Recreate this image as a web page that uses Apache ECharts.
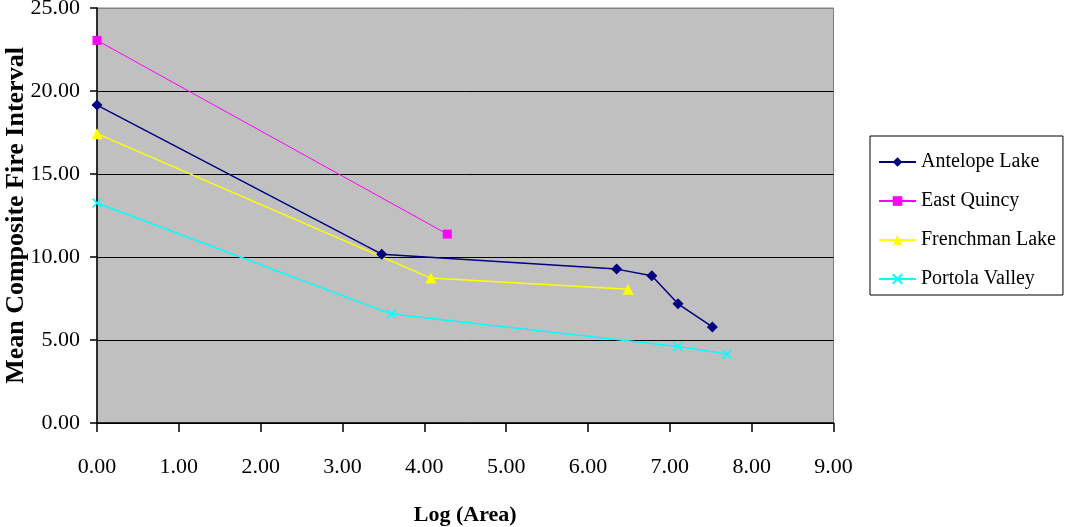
<!DOCTYPE html>
<html>
<head>
<meta charset="utf-8">
<script src="https://cdn.jsdelivr.net/npm/echarts@6/dist/echarts.min.js"></script>
<style>html,body{margin:0;padding:0;background:#fff}#c{width:1065px;height:527px}</style>
</head>
<body>
<div id="c"></div>
<script>
var seriesNames = ['Antelope Lake', 'East Quincy', 'Frenchman Lake', 'Portola Valley'];
var antelopeLake = [[0, 19.15], [3.48, 10.17], [6.35, 9.27], [6.78, 8.87], [7.10, 7.18], [7.52, 5.79]];
var eastQuincy = [[0, 23.05], [4.28, 11.38]];
var frenchmanLake = [[0, 17.43], [4.08, 8.73], [6.49, 8.06]];
var portolaValley = [[0, 13.25], [3.60, 6.56], [7.10, 4.61], [7.70, 4.15]];
var xTicks = {min: 0, max: 9, interval: 1};
var yTicks = {min: 0, max: 25, interval: 5};

var FONT = "'Liberation Serif', 'Times New Roman', serif";
var chart = echarts.init(document.getElementById('c'), null, {renderer: 'canvas'});
function fmt(v) { return Number(v).toFixed(2); }
chart.setOption({
  animation: false,
  backgroundColor: '#ffffff',
  textStyle: {fontFamily: FONT, color: '#000'},
  grid: {left: 97, top: 8, right: 231.5, bottom: 104, outerBoundsMode: 'none', containLabel: false,
         show: true, backgroundColor: '#C0C0C0', borderColor: '#808080', borderWidth: 1},
  legend: {
    orient: 'vertical', left: 870, top: 136,
    padding: [16, 7, 6, 8], itemGap: 19, itemWidth: 37, itemHeight: 12,
    borderColor: '#000', borderWidth: 1, backgroundColor: '#fff',
    textStyle: {fontFamily: FONT, fontSize: 20, color: '#000'},
    data: seriesNames
  },
  xAxis: {
    type: 'value', min: xTicks.min, max: xTicks.max, interval: xTicks.interval,
    name: 'Log (Area)', nameLocation: 'middle', nameGap: 81, nameMoveOverlap: false,
    nameTextStyle: {fontFamily: FONT, fontSize: 22, fontWeight: 'bold', color: '#000'},
    axisLine: {show: true, onZero: false, lineStyle: {color: '#000', width: 1.5}},
    axisTick: {show: true, length: 9, lineStyle: {color: '#000', width: 1.5}},
    axisLabel: {margin: 33, fontFamily: FONT, fontSize: 22, color: '#000', formatter: fmt},
    splitLine: {show: false}
  },
  yAxis: {
    type: 'value', min: yTicks.min, max: yTicks.max, interval: yTicks.interval,
    name: 'Mean Composite Fire Interval', nameLocation: 'middle', nameGap: 68, nameRotate: 90, nameMoveOverlap: false,
    nameTextStyle: {fontFamily: FONT, fontSize: 26, fontWeight: 'bold', color: '#000'},
    axisLine: {show: true, lineStyle: {color: '#000', width: 1.5}},
    axisTick: {show: true, length: 7, lineStyle: {color: '#000', width: 1.5}},
    axisLabel: {margin: 17, fontFamily: FONT, fontSize: 22, color: '#000', formatter: fmt},
    splitLine: {show: true, lineStyle: {color: ['#000', '#000', '#000', '#000', '#000', '#808080'], width: 1}}
  },
  series: [
    {name: seriesNames[0], type: 'line', data: antelopeLake, symbol: 'diamond', symbolSize: 11,
     lineStyle: {color: '#000080', width: 1.5}, itemStyle: {color: '#000080', borderWidth: 0}},
    {name: seriesNames[1], type: 'line', data: eastQuincy, symbol: 'rect', symbolSize: 9,
     lineStyle: {color: '#FF00FF', width: 1}, itemStyle: {color: '#FF00FF', borderWidth: 0}},
    {name: seriesNames[2], type: 'line', data: frenchmanLake, symbol: 'triangle', symbolSize: 11,
     lineStyle: {color: '#FFFF00', width: 1.5}, itemStyle: {color: '#FFFF00', borderWidth: 0}},
    {name: seriesNames[3], type: 'line', data: portolaValley, symbol: 'path://M0,0L10,10M10,0L0,10', symbolSize: 9,
     lineStyle: {color: '#00FFFF', width: 1.5}, itemStyle: {color: 'none', borderColor: '#00FFFF', borderWidth: 1.5}}
  ]
});
</script>
</body>
</html>
